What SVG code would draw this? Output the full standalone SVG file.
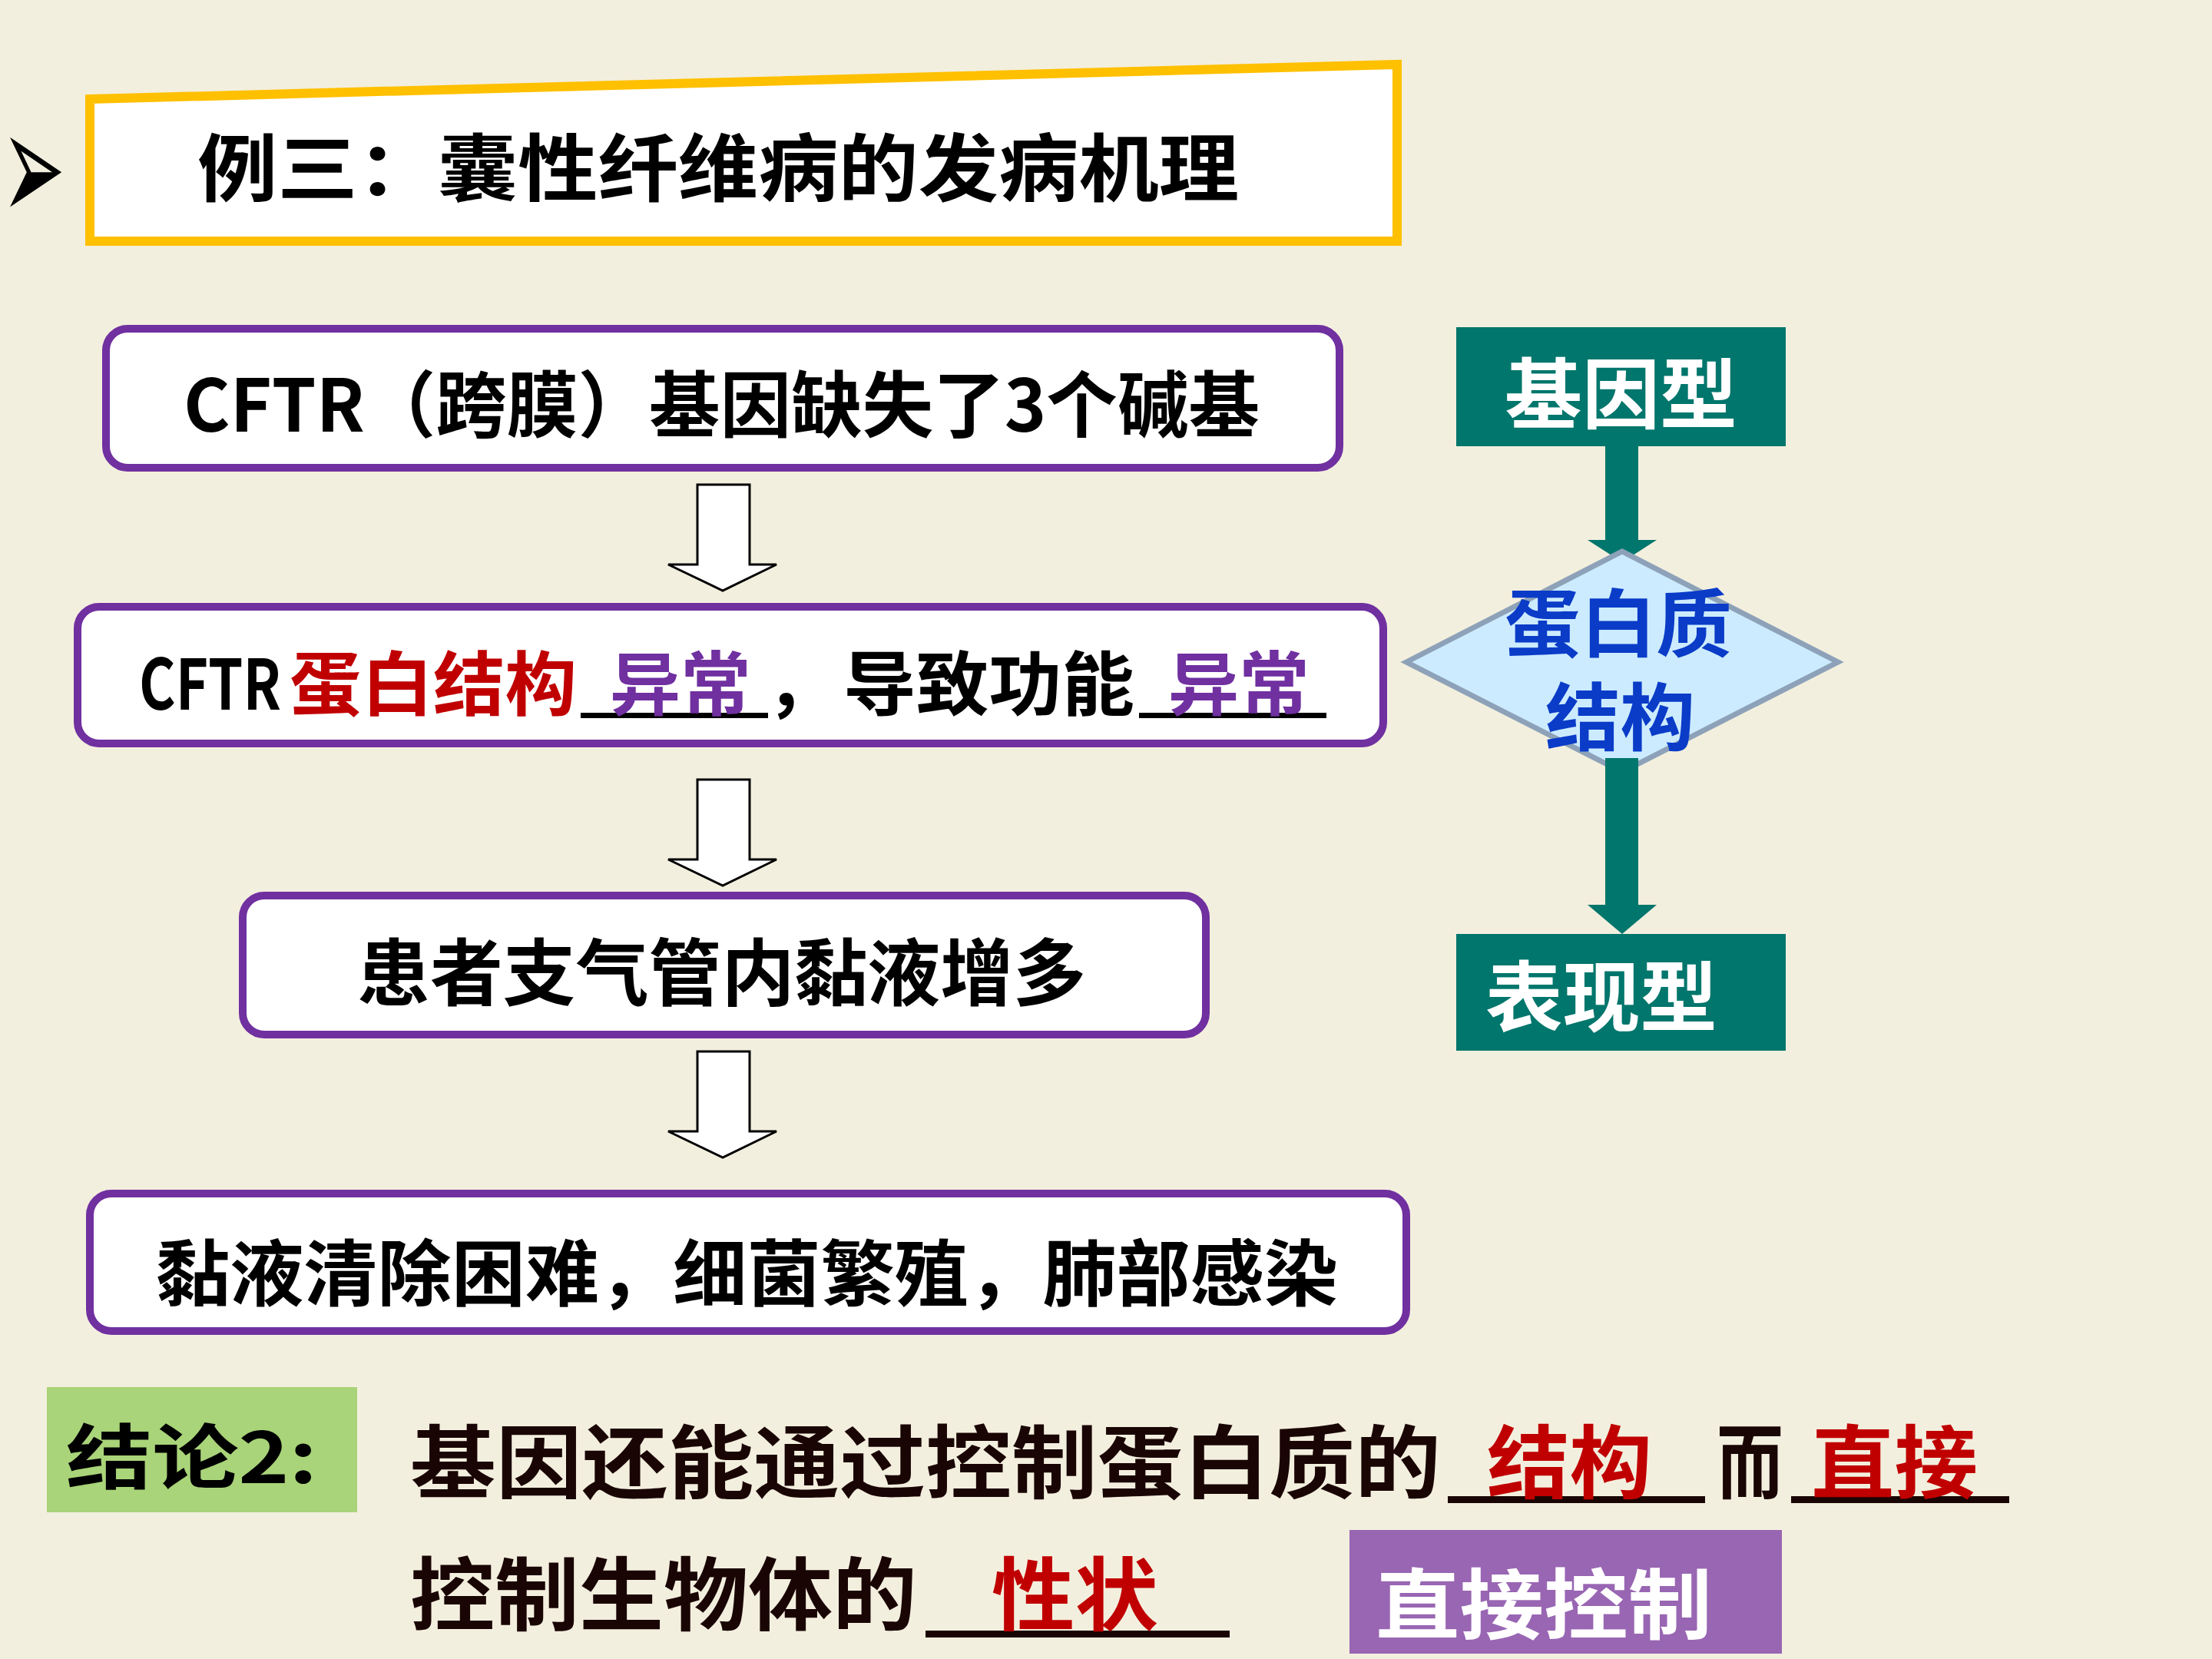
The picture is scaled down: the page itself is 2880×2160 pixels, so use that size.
<svg xmlns="http://www.w3.org/2000/svg" width="2880" height="2160" viewBox="0 0 2880 2160">
<style>
.cjk{font-family:"Noto Sans CJK SC","Noto Sans CJK TC",sans-serif;font-weight:700}
.box{fill:#FFFFFF;stroke:#7030A0;stroke-width:10}
.hollow{fill:#FFFFFF;stroke:#000000;stroke-width:3;stroke-linejoin:miter}
.teal{fill:#00766C}
.ul{fill:#1A0505}
.red{fill:#C00000}
.dark{fill:#1A0505}
</style>
<rect x="0" y="0" width="2880" height="2160" fill="#F3EFDE"/>

<g id="bullet">
<text transform="translate(2,289) scale(1.1,2.3)" x="0" y="0" font-family="DejaVu Sans, sans-serif" font-size="90" fill="#000">➢</text>
</g>

<g id="title">
<polygon points="117,129 1819,84 1819,314 117,314" fill="#FFFFFF" stroke="#FFC000" stroke-width="12"/>
<text class="cjk" x="257" y="254" font-size="96" fill="#000" textLength="1356" lengthAdjust="spacingAndGlyphs">例三：囊性纤维病的发病机理</text>
</g>

<g id="connectors">
<path class="hollow" d="M908,631 H976 V735 H1011 L941,769 L870,735 H908 Z"/>
<path class="hollow" d="M908,1015 H976 V1119 H1011 L941,1153 L870,1119 H908 Z"/>
<path class="hollow" d="M908,1369 H976 V1473 H1011 L941,1507 L870,1473 H908 Z"/>
<path class="teal" d="M2090,581 H2133 V703 H2157 L2112,732 L2067,703 H2090 Z"/>
</g>

<g id="node1">
<rect class="box" x="138" y="428" width="1606" height="181" rx="28"/>
<text class="cjk" x="239" y="562" font-size="94" fill="#000" textLength="1401" lengthAdjust="spacingAndGlyphs">CFTR（跨膜）基因缺失了3个碱基</text>
</g>

<g id="node2">
<rect class="box" x="101" y="790" width="1700" height="178" rx="28"/>
<rect x="756" y="928" width="244" height="7" fill="#000"/>
<rect x="1483" y="928" width="244" height="7" fill="#000"/>
<text class="cjk" y="924" font-size="91" fill="#000"><tspan x="181" textLength="185" lengthAdjust="spacingAndGlyphs">CFTR</tspan><tspan x="377" fill="#C00000" textLength="374" lengthAdjust="spacingAndGlyphs">蛋白结构</tspan><tspan x="794" fill="#7030A0" textLength="184" lengthAdjust="spacingAndGlyphs">异常</tspan><tspan x="998">，</tspan><tspan x="1098" textLength="379" lengthAdjust="spacingAndGlyphs">导致功能</tspan><tspan x="1521" fill="#7030A0" textLength="184" lengthAdjust="spacingAndGlyphs">异常</tspan></text>
</g>

<g id="node3">
<rect class="box" x="316" y="1166" width="1254" height="181" rx="28"/>
<text class="cjk" x="465" y="1302" font-size="95" fill="#000" textLength="949" lengthAdjust="spacingAndGlyphs">患者支气管内黏液增多</text>
</g>

<g id="node4">
<rect class="box" x="117" y="1554" width="1714" height="179" rx="28"/>
<text class="cjk" x="203" y="1693" font-size="94" fill="#000" textLength="1539" lengthAdjust="spacingAndGlyphs">黏液清除困难，细菌繁殖，肺部感染</text>
</g>

<g id="genotype">
<rect class="teal" x="1896" y="426" width="429" height="155"/>
<text class="cjk" x="1959" y="550" font-size="100" fill="#FFFFFF" textLength="303" lengthAdjust="spacingAndGlyphs">基因型</text>
</g>

<g id="protein">
<polygon points="1831,862 2112,718 2393,862 2112,1005" fill="#CCEBFF" stroke="#8DA2B8" stroke-width="7"/>
</g>

<g id="connectors2">
<path class="teal" d="M2090,987 H2133 V1178 H2157 L2112,1216 L2067,1178 H2090 Z"/>
</g>

<g id="protein-label">
<text class="cjk" font-size="96" fill="#0A3CC8"><tspan x="1959" y="847" textLength="296" lengthAdjust="spacingAndGlyphs">蛋白质</tspan><tspan x="2012" y="969" textLength="195" lengthAdjust="spacingAndGlyphs">结构</tspan></text>
</g>

<g id="phenotype">
<rect class="teal" x="1896" y="1216" width="429" height="152"/>
<text class="cjk" x="1934" y="1335" font-size="100" fill="#FFFFFF" textLength="302" lengthAdjust="spacingAndGlyphs">表现型</text>
</g>

<g id="conclusion">
<rect x="61" y="1806" width="404" height="163" fill="#A9D479"/>
<text class="cjk" x="86" y="1931" font-size="92" fill="#000" textLength="327" lengthAdjust="spacingAndGlyphs">结论2:</text>
<text class="cjk dark" x="534" y="1943" font-size="104" textLength="1342" lengthAdjust="spacingAndGlyphs">基因还能通过控制蛋白质的</text>
<rect class="ul" x="1885" y="1948" width="335" height="9"/>
<text class="cjk red" x="1936" y="1943" font-size="104" textLength="215" lengthAdjust="spacingAndGlyphs">结构</text>
<text class="cjk dark" x="2235" y="1943" font-size="104" textLength="87" lengthAdjust="spacingAndGlyphs">而</text>
<rect class="ul" x="2332" y="1948" width="284" height="9"/>
<text class="cjk red" x="2358" y="1943" font-size="104" textLength="217" lengthAdjust="spacingAndGlyphs">直接</text>
<text class="cjk dark" x="534" y="2115" font-size="104" textLength="660" lengthAdjust="spacingAndGlyphs">控制生物体的</text>
<rect class="ul" x="1205" y="2123" width="396" height="9"/>
<text class="cjk red" x="1291" y="2115" font-size="104" textLength="217" lengthAdjust="spacingAndGlyphs">性状</text>
</g>

<g id="direct-control">
<rect x="1757" y="1992" width="563" height="161" fill="#9966B3"/>
<text class="cjk" x="1791" y="2126" font-size="100" fill="#FFFFFF" textLength="438" lengthAdjust="spacingAndGlyphs">直接控制</text>
</g>
</svg>
